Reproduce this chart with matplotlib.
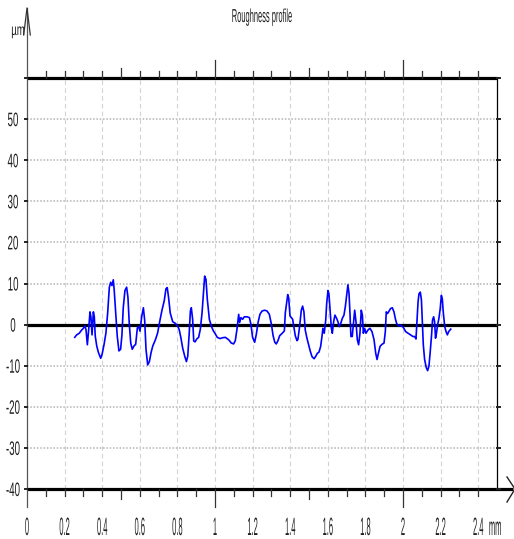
import numpy as np
import matplotlib
matplotlib.use("Agg")
import matplotlib.pyplot as plt
from matplotlib import patheffects
from matplotlib.transforms import Affine2D

# Roughness trace: position along the surface (mm) and profile height (µm)
profile_x = [
    0.254, 0.264, 0.278, 0.291, 0.300, 0.309, 0.314, 0.321, 0.328, 0.335,
    0.340, 0.346, 0.353, 0.358, 0.363, 0.371, 0.380, 0.392, 0.400, 0.410,
    0.420, 0.429, 0.438, 0.445, 0.452, 0.459, 0.464, 0.472, 0.480, 0.489,
    0.498, 0.505, 0.512, 0.521, 0.530, 0.537, 0.544, 0.552, 0.560, 0.569,
    0.578, 0.587, 0.594, 0.601, 0.610, 0.619, 0.626, 0.633, 0.642, 0.651,
    0.660, 0.669, 0.683, 0.695, 0.707, 0.718, 0.730, 0.739, 0.746, 0.753,
    0.762, 0.775, 0.789, 0.801, 0.810, 0.819, 0.828, 0.839, 0.848, 0.855,
    0.863, 0.869, 0.874, 0.881, 0.887, 0.894, 0.903, 0.913, 0.922, 0.931,
    0.938, 0.945, 0.952, 0.959, 0.970, 0.980, 0.991, 1.002, 1.012, 1.027,
    1.040, 1.055, 1.073, 1.087, 1.099, 1.108, 1.117, 1.126, 1.131, 1.138,
    1.147, 1.156, 1.170, 1.183, 1.191, 1.200, 1.211, 1.220, 1.229, 1.239,
    1.250, 1.264, 1.277, 1.289, 1.300, 1.309, 1.318, 1.326, 1.335, 1.344,
    1.353, 1.362, 1.369, 1.374, 1.381, 1.387, 1.392, 1.399, 1.406, 1.413,
    1.420, 1.427, 1.436, 1.441, 1.450, 1.459, 1.466, 1.473, 1.480, 1.489,
    1.498, 1.507, 1.516, 1.527, 1.536, 1.544, 1.553, 1.562, 1.569, 1.574,
    1.581, 1.589, 1.594, 1.601, 1.606, 1.612, 1.619, 1.624, 1.631, 1.638,
    1.647, 1.654, 1.661, 1.669, 1.677, 1.686, 1.693, 1.701, 1.707, 1.713,
    1.718, 1.723, 1.730, 1.737, 1.743, 1.750, 1.757, 1.764, 1.771, 1.778,
    1.784, 1.789, 1.796, 1.803, 1.814, 1.824, 1.835, 1.846, 1.855, 1.862,
    1.869, 1.878, 1.888, 1.899, 1.906, 1.911, 1.918, 1.926, 1.934, 1.943,
    1.952, 1.959, 1.966, 1.975, 1.988, 2.002, 2.014, 2.027, 2.041, 2.053,
    2.062, 2.069, 2.074, 2.080, 2.085, 2.092, 2.098, 2.103, 2.108, 2.115,
    2.124, 2.131, 2.138, 2.145, 2.152, 2.157, 2.163, 2.168, 2.173, 2.178,
    2.184, 2.191, 2.198, 2.204, 2.209, 2.214, 2.222, 2.229, 2.236, 2.243,
    2.254,
]
profile_y = [
    -3.1, -2.5, -2.1, -1.3, -0.9, -0.3, -1.3, -4.9, -1.3, 3.1,
    1.9, -2.5, 3.1, 1.9, -2.8, -5.2, -6.8, -8.2, -7.1, -4.8,
    -2.0, 2.8, 9.1, 10.3, 9.5, 10.9, 8.3, 2.8, -2.8, -6.4,
    -6.0, -2.5, 4.1, 8.3, 9.1, 6.6, 0.2, -4.6, -6.0, -5.2,
    -4.8, -0.8, -0.5, -1.6, 1.9, 4.1, 1.0, -6.0, -9.8, -9.0,
    -6.8, -5.2, -3.7, -2.0, 1.0, 3.5, 5.8, 8.7, 9.0, 6.6,
    2.8, 0.7, 0.3, -0.3, -1.3, -3.3, -5.7, -7.7, -9.0, -7.7,
    -2.0, 3.3, 4.1, 1.3, -4.0, -4.2, -3.5, -3.1, -1.1, 2.8,
    7.4, 11.8, 11.0, 6.2, 1.3, -0.3, -1.5, -2.3, -3.1, -3.4,
    -3.2, -3.1, -3.7, -4.5, -4.7, -3.9, -1.1, 2.5, 0.5, 1.7,
    1.3, 1.9, 1.9, 1.7, 0.1, -3.1, -4.3, -2.3, 0.5, 2.5,
    3.3, 3.5, 3.3, 2.5, 0.1, -2.7, -4.3, -4.7, -3.9, -2.7,
    -2.3, -1.9, -1.5, 2.9, 5.3, 7.3, 6.5, 2.1, 1.7, 1.3,
    -0.7, -2.7, -3.9, -3.6, -0.5, 3.5, 4.5, 3.1, -1.3, -3.3,
    -4.9, -6.5, -7.8, -8.3, -7.7, -7.0, -6.7, -5.3, -2.9, -0.9,
    -2.1, 1.1, 5.1, 8.3, 7.5, 3.5, -0.9, -2.1, 0.7, 2.3,
    1.5, 0.7, -0.5, 0.3, 1.5, 2.3, 4.3, 7.5, 9.7, 7.5,
    2.7, -2.9, -2.9, 0.7, 3.5, 0.7, -3.7, -4.9, -2.1, 3.5,
    2.3, -2.1, -0.9, -2.1, -1.3, -0.9, -1.7, -3.7, -7.0, -8.5,
    -7.0, -5.3, -4.8, -4.5, -1.7, 3.1, 2.7, 3.3, 3.9, 4.1,
    3.1, 1.5, 0.3, -0.3, -0.1, -0.7, -1.7, -2.1, -2.5, -2.9,
    -2.9, -3.5, 0.7, 5.5, 7.5, 7.9, 6.0, 0.7, -4.9, -8.5,
    -10.5, -11.2, -10.1, -6.5, -2.5, 1.1, 1.9, 0.7, -3.3, -2.1,
    -0.1, 1.5, 3.9, 7.1, 6.3, 3.1, -0.5, -1.7, -2.5, -1.7,
    -1.1,
]

x_tick_values = [0, 0.2, 0.4, 0.6, 0.8, 1.0, 1.2, 1.4, 1.6, 1.8, 2.0, 2.2, 2.4]
x_tick_labels = ["0", "0.2", "0.4", "0.6", "0.8", "1", "1.2", "1.4", "1.6",
                 "1.8", "2", "2.2", "2.4"]
y_tick_values = [-40, -30, -20, -10, 0, 10, 20, 30, 40, 50]
y_tick_labels = ["-40", "-30", "-20", "-10", "0", "10", "20", "30", "40", "50"]
x_grid = [0.2, 0.4, 0.6, 0.8, 1.0, 1.2, 1.4, 1.6, 1.8, 2.0, 2.2, 2.4]
y_grid = [-30, -20, -10, 10, 20, 30, 40, 50]
x_marks = [round(0.1 * i, 1) for i in range(1, 25)]

title_text = "Roughness profile"
y_unit = "µm"
x_unit = "mm"

X_MIN, X_MAX = 0.0, 2.5
Y_MIN, Y_MAX = -40.0, 60.0


class Narrow(patheffects.AbstractPathEffect):
    """Draw text condensed horizontally (about an anchor) and stretched
    vertically (about the baseline)."""

    def __init__(self, sx, sy=1.0, anchor="center"):
        super().__init__()
        self.sx = sx
        self.sy = sy
        self.anchor = anchor

    def draw_path(self, renderer, gc, tpath, affine, rgbFace=None):
        ext = tpath.get_extents()
        if self.anchor == "right":
            cx = ext.x1
        elif self.anchor == "left":
            cx = ext.x0
        else:
            cx = 0.5 * (ext.x0 + ext.x1)
        t = (Affine2D().translate(-cx, 0).scale(self.sx, self.sy)
             .translate(cx, 0) + affine)
        renderer.draw_path(gc, tpath, t, rgbFace)


FONT = ["Liberation Sans", "DejaVu Sans"]
TXT = "#1e1e1e"

W, H = 514, 539
fig = plt.figure(figsize=(W / 100, H / 100), dpi=100)
ax_left, ax_right, ax_top, ax_bottom = 27, 497, 78, 489
ax = fig.add_axes([ax_left / W, (H - ax_bottom) / H,
                   (ax_right - ax_left) / W, (ax_bottom - ax_top) / H])
ax.set_xlim(X_MIN, X_MAX)
ax.set_ylim(Y_MIN, Y_MAX)
ax.axis("off")

px_x = (ax_right - ax_left) / (X_MAX - X_MIN)   # pixels per mm
px_y = (ax_bottom - ax_top) / (Y_MAX - Y_MIN)   # pixels per µm


def dx(p):
    return p / px_x


def dy(p):
    return p / px_y


# grid
ax.hlines(y_grid, X_MIN, X_MAX, colors="#c4c4c4", linewidth=1.4,
          linestyles=(0, (0.8, 0.9)), zorder=1)
ax.vlines(x_grid, Y_MIN, Y_MAX, colors="#d2d2d2", linewidth=0.8,
          linestyles=(0, (4, 3)), zorder=1)

# frame: heavy top/bottom rules, zero line, thin right edge
ax.plot([X_MIN, X_MAX], [Y_MAX, Y_MAX], color="black", lw=2.3, zorder=3,
        solid_capstyle="butt", clip_on=False)
ax.plot([X_MIN, X_MAX + dx(16)], [Y_MIN, Y_MIN], color="black", lw=2.3,
        zorder=3, solid_capstyle="butt", clip_on=False)
ax.plot([X_MIN, X_MAX], [0, 0], color="black", lw=2.3, zorder=3,
        solid_capstyle="butt")
ax.plot([X_MAX, X_MAX], [Y_MIN, Y_MAX], color="black", lw=0.9, zorder=3,
        clip_on=False)

# vertical axis with open arrow head
ax.plot([X_MIN, X_MIN], [Y_MIN - dy(18), Y_MAX + dy(70)], color="#555555",
        lw=0.9, zorder=3, clip_on=False)
ax.plot([X_MIN - dx(3.3), X_MIN, X_MIN + dx(3.3)],
        [Y_MAX + dy(43), Y_MAX + dy(70), Y_MAX + dy(43)],
        color="#333333", lw=0.9, zorder=3, clip_on=False)
# horizontal axis arrow head
ax.plot([X_MAX + dx(10), X_MAX + dx(18), X_MAX + dx(10)],
        [Y_MIN + dy(12), Y_MIN, Y_MIN - dy(13)],
        color="#222222", lw=1.0, zorder=3, clip_on=False)

# tick marks on the top and bottom rules
for xv in x_marks:
    if abs(xv - round(xv)) < 1e-6:
        ln = 18
    elif abs(xv * 2 - round(xv * 2)) < 1e-6:
        ln = 10
    else:
        ln = 7
    ax.plot([xv, xv], [Y_MAX, Y_MAX + dy(ln)], color="#333333", lw=0.9,
            zorder=3, clip_on=False)
    ax.plot([xv, xv], [Y_MIN, Y_MIN - dy(ln)], color="#333333", lw=0.9,
            zorder=3, clip_on=False)

# small level marks beside the vertical edges
for yv in y_tick_values + [Y_MAX]:
    ax.plot([X_MIN - dx(2.5), X_MIN], [yv, yv], color="#222222", lw=1.4,
            zorder=3, clip_on=False)
    ax.plot([X_MAX, X_MAX + dx(3)], [yv, yv], color="#222222", lw=1.4,
            zorder=3, clip_on=False)

# profile
ax.plot(profile_x, profile_y, color="#0000ff", lw=1.2, zorder=4)

# value labels on the height axis
for yv, lab in zip(y_tick_values, y_tick_labels):
    ax.text(X_MIN - dx(14), yv - dy(7), lab, ha="center", va="baseline",
            fontsize=10, family=FONT, color=TXT, clip_on=False,
            path_effects=[Narrow(0.7, 1.4, "center")])

# value labels on the length axis
label_base = Y_MIN - dy(46)
for xv, lab in zip(x_tick_values, x_tick_labels):
    ax.text(xv, label_base, lab, ha="center", va="baseline", fontsize=9.5,
            family=FONT, color=TXT, clip_on=False,
            path_effects=[Narrow(0.57, 1.9, "center")])
ax.text(X_MIN + dx(461.5), label_base, x_unit, ha="left", va="baseline",
        fontsize=9.5, family=FONT, color=TXT, clip_on=False,
        path_effects=[Narrow(0.57, 1.9, "left")])

ax.text((X_MIN + X_MAX) / 2, Y_MAX + dy(56), title_text, ha="center",
        va="baseline", fontsize=10, family=FONT, color=TXT, clip_on=False,
        path_effects=[Narrow(0.54, 1.35, "center")])
ax.text(X_MIN - dx(9), Y_MAX + dy(43), y_unit, ha="center", va="baseline",
        fontsize=8, family=FONT, color=TXT, clip_on=False,
        path_effects=[Narrow(0.86, 1.44, "center")])

fig.savefig("out.png", dpi=100)
